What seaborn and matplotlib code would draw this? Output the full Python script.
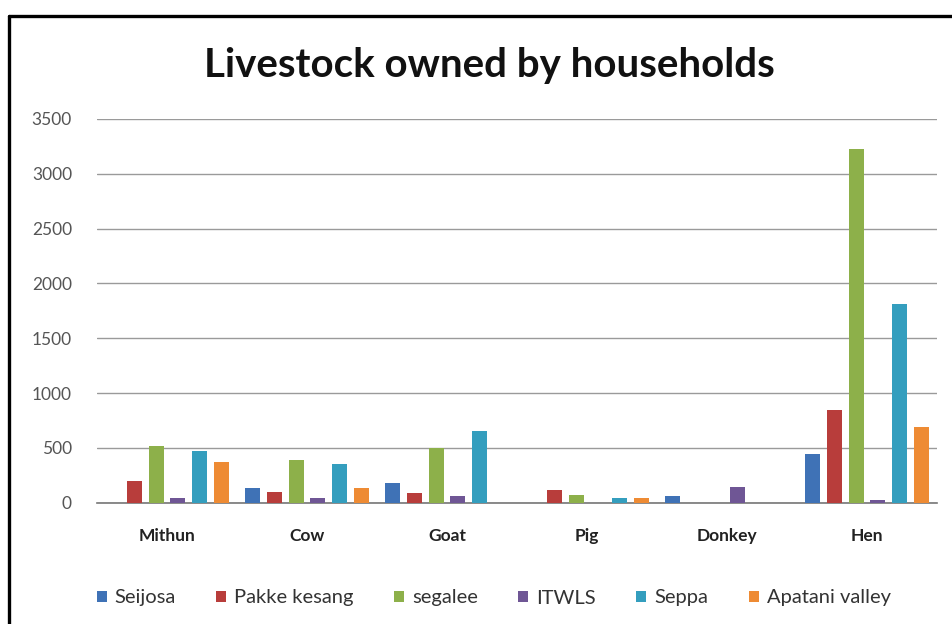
import matplotlib
matplotlib.use("Agg")
import matplotlib.pyplot as plt
from matplotlib.lines import Line2D
import seaborn as sns
import pandas as pd

# Livestock counts per area
animals = ["Mithun", "Cow", "Goat", "Pig", "Donkey", "Hen"]
areas = ["Seijosa", "Pakke kesang", "segalee", "ITWLS", "Seppa", "Apatani valley"]

seijosa = [0, 130, 181, 0, 61, 440]
pakke_kesang = [200, 94, 90, 115, 0, 845]
segalee = [513, 386, 497, 67, 0, 3224]
itwls = [40, 45, 61, 0, 145, 22]
seppa = [476, 356, 651, 40, 0, 1810]
apatani_valley = [371, 130, 0, 45, 0, 693]

yticks = [0, 500, 1000, 1500, 2000, 2500, 3000, 3500]
colors = ["#3F72B6", "#B83D3B", "#8DB04A", "#6F5695", "#349EBE", "#EE8B34"]

series = [seijosa, pakke_kesang, segalee, itwls, seppa, apatani_valley]
rows = []
for area, vals in zip(areas, series):
    for animal, v in zip(animals, vals):
        rows.append({"animal": animal, "area": area, "count": v})
df = pd.DataFrame(rows)

sns.set_theme(style="white")
plt.rcParams["font.family"] = ["Lato", "DejaVu Sans"]

fig = plt.figure(figsize=(9.53, 6.24), dpi=100)
ax = fig.add_axes([97 / 953, 1 - 502.7 / 624, (937 - 97) / 953, (502.7 - 119) / 624])

sns.barplot(data=df, x="animal", y="count", hue="area", order=animals,
            hue_order=areas, palette=colors, width=0.93, gap=0.3,
            saturation=1, errorbar=None, linewidth=0, ax=ax, zorder=3)

ax.set_ylim(0, 3500)
ax.set_yticks(yticks)
ax.set_yticklabels([str(t) for t in yticks], fontsize=12.5, color="#555555")
ax.set_xlim(-0.5, len(animals) - 0.5)
ax.yaxis.grid(True, color="#9a9a9a", linewidth=1.0, zorder=0)
ax.set_axisbelow(True)
ax.tick_params(axis="y", length=0, pad=18)
ax.tick_params(axis="x", length=0, pad=18)
for lab in ax.get_xticklabels():
    lab.set_fontweight("bold")
    lab.set_fontsize(12.5)
    lab.set_color("#222222")
for s in ["top", "right", "left"]:
    ax.spines[s].set_visible(False)
ax.spines["bottom"].set_color("#777777")
ax.spines["bottom"].set_linewidth(1.2)
ax.set_xlabel("")
ax.set_ylabel("")

handles, labels = ax.get_legend_handles_labels()
ax.legend_.remove()
fig.legend(handles, labels, loc="center", bbox_to_anchor=(0.518, 1 - 598 / 624),
           ncol=6, frameon=False, fontsize=14.5, handlelength=0.5,
           handleheight=0.5, handletextpad=0.4, columnspacing=2.0,
           labelcolor="#333333")

fig.text(0.514, 1 - 66 / 624, "Livestock owned by households", ha="center",
         va="center", fontsize=29, fontweight="bold", color="#111111")

# frame around the chart area
fig.add_artist(Line2D([9.5 / 953, 1.0], [1 - 15.5 / 624, 1 - 15.5 / 624],
                      transform=fig.transFigure, color="black", linewidth=2.4))
fig.add_artist(Line2D([9.5 / 953, 9.5 / 953], [1 - 15.5 / 624, 0.0],
                      transform=fig.transFigure, color="black", linewidth=2.4))

fig.savefig("out.png", dpi=100, facecolor="white")
